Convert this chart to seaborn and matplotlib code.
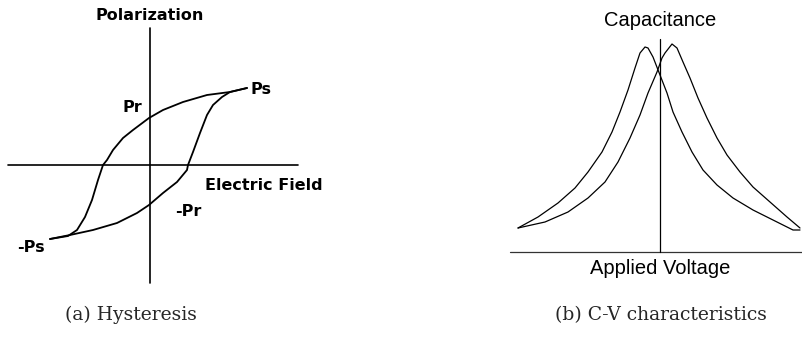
import matplotlib
matplotlib.use("Agg")
import matplotlib.pyplot as plt
import seaborn as sns
import pandas as pd

# ---- (a) Hysteresis loop: electric field E vs polarization P (arbitrary units)
hyst_upper_E = [97, 80, 57, 33, 13, -1, -17, -27, -37, -43, -47, -52, -58, -65, -73, -82, -100]
hyst_upper_P = [77, 73, 70, 63, 55, 47, 35, 27, 15, 5, 0, -15, -35, -52, -65, -71, -74]
hyst_lower_E = [-100, -80, -57, -33, -13, -1, 13, 27, 37, 38, 43, 50, 57, 63, 72, 80, 97]
hyst_lower_P = [-74, -70, -65, -58, -48, -40, -28, -17, -5, 0, 13, 32, 50, 60, 68, 73, 77]

# ---- (b) C-V characteristics: applied voltage V vs capacitance C (arbitrary units)
cv_sweep1_V = [-142, -122, -102, -85, -72, -58, -48, -40, -32, -25, -20, -15, -12, -7, 0,
               7, 13, 22, 32, 43, 57, 73, 93, 113, 133, 140]
cv_sweep1_C = [24, 35, 49, 64, 80, 100, 120, 140, 162, 184, 199, 205, 204, 195, 177,
               159, 140, 120, 100, 82, 67, 54, 42, 32, 22, 22]
cv_sweep2_V = [-142, -115, -92, -72, -55, -42, -30, -20, -12, -3, 2, 5, 12,
               17, 23, 30, 38, 47, 57, 67, 80, 93, 110, 127, 140]
cv_sweep2_C = [24, 30, 40, 54, 70, 90, 114, 137, 159, 180, 194, 199, 208,
               204, 190, 174, 154, 134, 114, 97, 80, 65, 50, 35, 24]

captions = ["(a) Hysteresis", "(b) C-V characteristics"]

sns.set_style("white")
plt.rcParams['font.family'] = ['DejaVu Sans']

W, H = 802, 341
fig = plt.figure(figsize=(W / 100, H / 100), dpi=100)
fig.patch.set_facecolor("white")

# ---------------- panel (a)
axA = fig.add_axes([0, 41 / H, 320 / W, 300 / H])
axA.set_xlim(-150, 170)
axA.set_ylim(-135, 165)
axA.axis("off")

# axes of the diagram
axA.plot([-142, 148], [0, 0], color="black", lw=1.2)
axA.plot([0, 0], [-118, 137], color="black", lw=1.2)

dfa = pd.concat([
    pd.DataFrame({"E": hyst_upper_E, "P": hyst_upper_P, "branch": "upper"}),
    pd.DataFrame({"E": hyst_lower_E, "P": hyst_lower_P, "branch": "lower"}),
])
sns.lineplot(data=dfa, x="E", y="P", units="branch", estimator=None, sort=False,
             color="black", lw=1.3, ax=axA, legend=False)

bold = dict(fontweight="bold", color="black", fontsize=11.5)
axA.text(0, 149, "Polarization", ha="center", va="center", **bold)
axA.text(55, -20, "Electric Field", ha="left", va="center", **bold)
axA.text(-28, 57, "Pr", ha="left", va="center", **bold)
axA.text(100, 76, "Ps", ha="left", va="center", **bold)
axA.text(25, -46, "-Pr", ha="left", va="center", **bold)
axA.text(-133, -82, "-Ps", ha="left", va="center", **bold)

# ---------------- panel (b)
axB = fig.add_axes([490 / W, 41 / H, 312 / W, 300 / H])
axB.set_xlim(-170, 142)
axB.set_ylim(-48, 252)
axB.axis("off")

axB.plot([-150, 142], [0, 0], color="#333333", lw=0.9)
axB.plot([0, 0], [0, 213], color="black", lw=0.9)

dfb = pd.concat([
    pd.DataFrame({"V": cv_sweep1_V, "C": cv_sweep1_C, "sweep": "1"}),
    pd.DataFrame({"V": cv_sweep2_V, "C": cv_sweep2_C, "sweep": "2"}),
])
sns.lineplot(data=dfb, x="V", y="C", units="sweep", estimator=None, sort=False,
             color="black", lw=0.9, ax=axB, legend=False)

axB.text(0, 231, "Capacitance", ha="center", va="center", fontsize=14.5, color="black",
         family="Liberation Sans")
axB.text(0, -16, "Applied Voltage", ha="center", va="center", fontsize=14.5, color="black",
         family="Liberation Sans")

# ---------------- captions
fig.text(131 / W, 1 - 315 / H, captions[0], ha="center", va="center",
         fontsize=13.5, family="DejaVu Serif")
fig.text(661 / W, 1 - 315 / H, captions[1], ha="center", va="center",
         fontsize=13.5, family="DejaVu Serif")

fig.savefig("out.png", dpi=100, facecolor="white")
